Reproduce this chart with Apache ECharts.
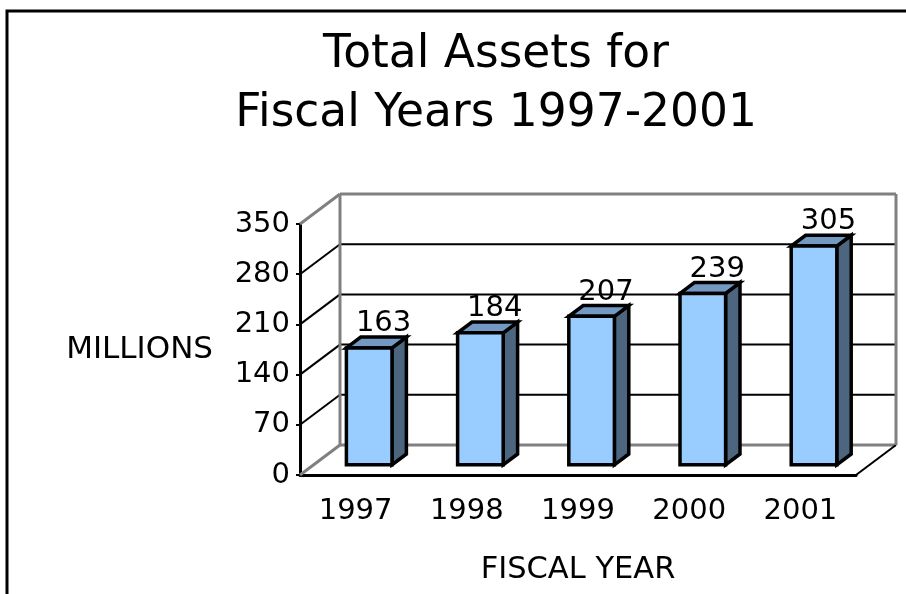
<!DOCTYPE html>
<html>
<head>
<meta charset="utf-8">
<script src="https://cdn.jsdelivr.net/npm/echarts@6/dist/echarts.min.js"></script>
<style>
  html, body { margin: 0; padding: 0; background: #ffffff; }
  #chart { width: 906px; height: 594px; }
</style>
</head>
<body>
<div id="chart"></div>
<script>
// Fiscal years and total assets (millions)
const years = ['1997', '1998', '1999', '2000', '2001'];
const assets = [163, 184, 207, 239, 305];
const valueTicks = [0, 70, 140, 210, 280, 350];

const FONT = 'DejaVu Sans';
const GRAY = '#808080';
// Pseudo-3D depth of the floor, in pixels (back wall offset)
const DEPTH_X = 40;
const DEPTH_Y = -30;
// Bar placement inside the depth (fractions of full depth) and width (fraction of band)
const BAR_NEAR = 0.34;
const BAR_FAR = 0.70;
const BAR_WIDTH = 0.41;

const chart = echarts.init(document.getElementById('chart'), null, { renderer: 'canvas' });

// Back wall, side wall and floor edges, one item per value tick
function renderWalls(params, api) {
  const cs = params.coordSys;
  const x0 = cs.x;
  const x1 = cs.x + cs.width;
  const v = api.value(0);
  const y = api.coord([0, v])[1];
  const yBase = api.coord([0, valueTicks[0]])[1];
  const isFloor = v === valueTicks[0];
  const isTop = v === valueTicks[valueTicks.length - 1];
  const edge = isFloor || isTop;
  const stroke = edge ? GRAY : '#000000';
  const lw = edge ? 3 : 2;
  const children = [
    { type: 'line', shape: { x1: x0 + DEPTH_X, y1: y + DEPTH_Y, x2: x1 + DEPTH_X, y2: y + DEPTH_Y },
      style: { stroke: stroke, lineWidth: lw } },
    { type: 'line', shape: { x1: x0, y1: y, x2: x0 + DEPTH_X, y2: y + DEPTH_Y },
      style: { stroke: stroke, lineWidth: lw } }
  ];
  if (isFloor) {
    children.push({ type: 'line', shape: { x1: x1, y1: y, x2: x1 + DEPTH_X, y2: y + DEPTH_Y },
      style: { stroke: '#000000', lineWidth: 2 } });
  }
  if (isTop) {
    children.push({ type: 'line', shape: { x1: x0 + DEPTH_X, y1: y + DEPTH_Y, x2: x0 + DEPTH_X, y2: yBase + DEPTH_Y },
      style: { stroke: GRAY, lineWidth: 3 } });
    children.push({ type: 'line', shape: { x1: x1 + DEPTH_X, y1: y + DEPTH_Y, x2: x1 + DEPTH_X, y2: yBase + DEPTH_Y },
      style: { stroke: GRAY, lineWidth: 3 } });
  }
  return { type: 'group', children: children };
}

// Box-shaped bar: front face, right side, top, and value label
function renderBar(params, api) {
  const i = api.value(0);
  const v = api.value(1);
  const base = api.coord([i, 0]);
  const top = api.coord([i, v]);
  const band = api.size([1, 0])[0];
  const w = band * BAR_WIDTH;
  const nx = BAR_NEAR * DEPTH_X, ny = BAR_NEAR * DEPTH_Y;
  const dx = (BAR_FAR - BAR_NEAR) * DEPTH_X, dy = (BAR_FAR - BAR_NEAR) * DEPTH_Y;
  const L = base[0] - w / 2 + nx;
  const R = L + w;
  const B = base[1] + ny;
  const T = top[1] + ny;
  const edge = { stroke: '#000000', lineWidth: 3.5, lineJoin: 'miter' };
  return {
    type: 'group',
    children: [
      { type: 'polygon', shape: { points: [[R, B], [R + dx, B + dy], [R + dx, T + dy], [R, T]] },
        style: Object.assign({ fill: '#4D6680' }, edge) },
      { type: 'polygon', shape: { points: [[L, T], [R, T], [R + dx, T + dy], [L + dx, T + dy]] },
        style: Object.assign({ fill: '#7399C2' }, edge) },
      { type: 'rect', shape: { x: L, y: T, width: w, height: B - T },
        style: Object.assign({ fill: '#99CCFF' }, edge) },
      { type: 'text', style: { text: String(v), x: L + w / 2 + dx, y: T + dy + 1,
          align: 'center', verticalAlign: 'bottom', fill: '#000000',
          fontSize: 29, fontFamily: FONT } }
    ]
  };
}

const option = {
  backgroundColor: '#ffffff',
  animation: false,
  textStyle: { fontFamily: FONT, color: '#000000' },
  title: {
    text: 'Total Assets for\nFiscal Years 1997-2001',
    left: 491,
    top: 21,
    textAlign: 'center',
    textStyle: { fontFamily: FONT, fontSize: 45.5, fontWeight: 'normal', lineHeight: 59, color: '#000000' }
  },
  graphic: [
    { type: 'polyline', shape: { points: [[7, 600], [7, 11], [910, 11]] },
      style: { stroke: '#000000', lineWidth: 3, fill: null } }
  ],
  grid: { left: 300, right: 50, top: 224, bottom: 119, containLabel: false, outerBoundsMode: 'none' },
  xAxis: {
    type: 'category',
    data: years,
    name: 'FISCAL YEAR',
    nameLocation: 'middle',
    nameGap: 80,
    nameTextStyle: { fontFamily: FONT, fontSize: 30.5, color: '#000000' },
    axisLine: { lineStyle: { color: '#000000', width: 3 } },
    axisTick: { length: 6, lineStyle: { color: '#000000', width: 2 } },
    axisLabel: { interval: 0, margin: 22, fontFamily: FONT, fontSize: 29, color: '#000000' },
    splitLine: { show: false }
  },
  yAxis: {
    type: 'value',
    min: valueTicks[0],
    max: valueTicks[valueTicks.length - 1],
    interval: valueTicks[1] - valueTicks[0],
    name: 'MILLIONS',
    nameLocation: 'middle',
    nameRotate: 0,
    nameGap: 87,
    nameTextStyle: { fontFamily: FONT, fontSize: 31, color: '#000000' },
    axisLine: { show: true, lineStyle: { color: '#000000', width: 3 } },
    axisTick: { show: true, length: 4, lineStyle: { color: '#000000', width: 2 } },
    axisLabel: { margin: 10, fontFamily: FONT, fontSize: 29, color: '#000000' },
    splitLine: { show: false }
  },
  series: [
    {
      name: 'walls',
      type: 'custom',
      renderItem: renderWalls,
      data: valueTicks.map(function (v) { return [v]; }),
      encode: { y: 0 },
      silent: true,
      z: 1
    },
    {
      name: 'Total Assets',
      type: 'custom',
      renderItem: renderBar,
      data: assets.map(function (v, i) { return [i, v]; }),
      encode: { x: 0, y: 1 },
      z: 3
    }
  ]
};

chart.setOption(option);
</script>
</body>
</html>
